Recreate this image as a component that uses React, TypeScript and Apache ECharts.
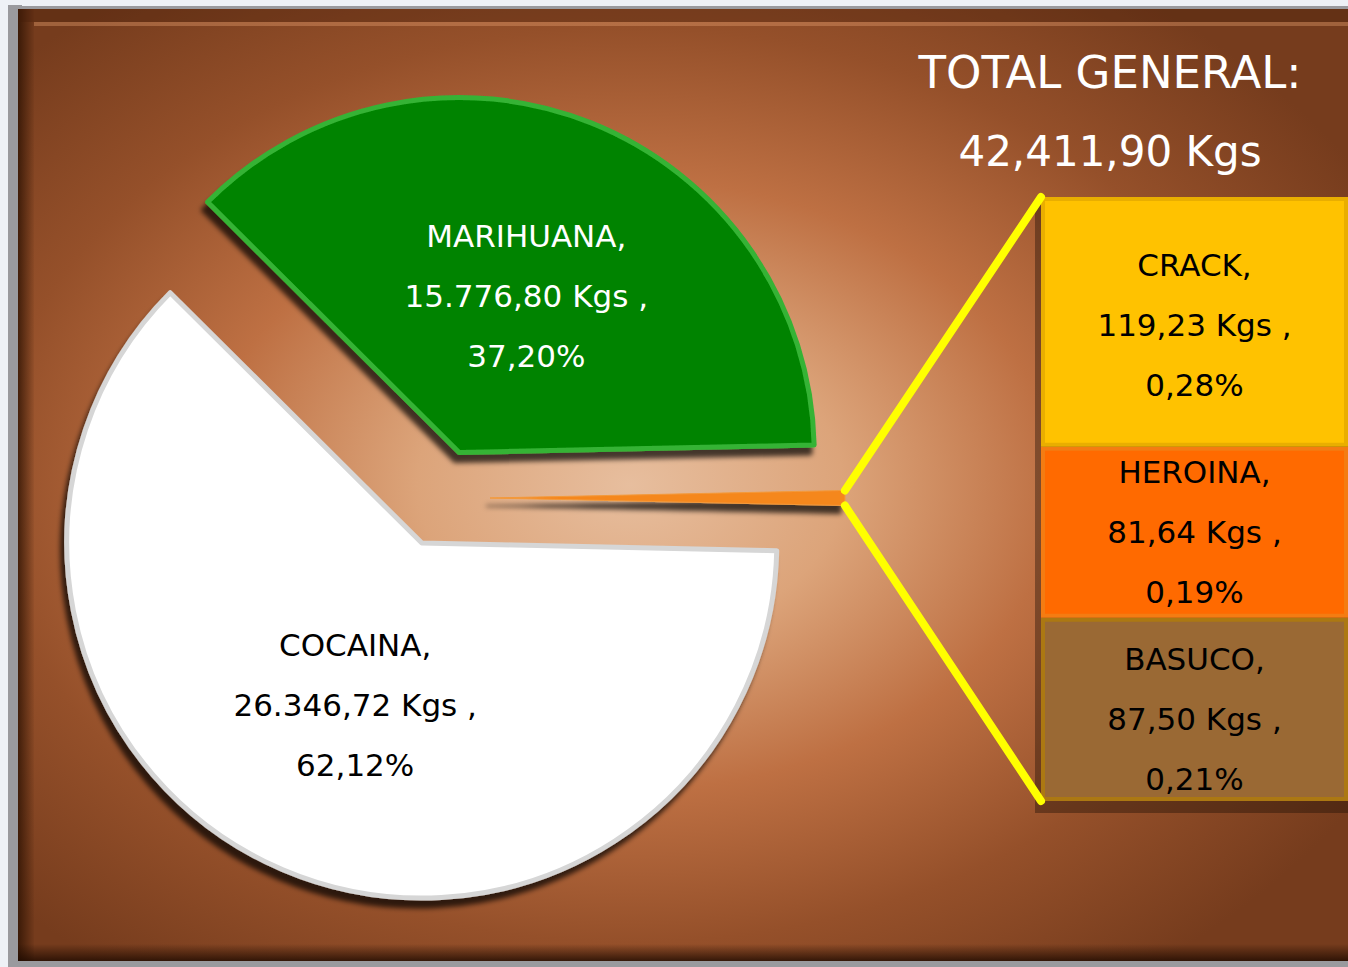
import React, { useEffect, useRef } from 'react';
import * as echarts from 'echarts';

// ---------- data ----------
const pieNames = ['OTROS', 'COCAINA', 'MARIHUANA'];
const mainValues = [26346.72, 15776.8]; // COCAINA, MARIHUANA
const barNames = ['CRACK', 'HEROINA', 'BASUCO'];
const barValues = [119.23, 81.64, 87.5];
const titleLine1 = 'TOTAL GENERAL:';
const titleLine2 = '42,411,90 Kgs';

// ---------- styles / layout ----------
const W = 1348;
const H = 967;
const PIE_CX = 441;
const PIE_CY = 498;
const PIE_R = 355;
const EXPLODE = 49;
const BAR_LEFT = 1041;
const BAR_TOP = 197;
const BAR_W = 307;
const BAR_H = 604;
const FONT = '"DejaVu Sans", "Noto Sans", sans-serif';

const pieColors: Record<string, { fill: string; border: string; text: string; dx: number; dy: number }> = {
  OTROS: { fill: '#F5871F', border: '#F39A3C', text: '#000', dx: 0, dy: 0 },
  COCAINA: { fill: '#FFFFFF', border: '#D6D6D6', text: '#000', dx: 4, dy: -4 },
  MARIHUANA: { fill: '#018301', border: '#35B335', text: '#fff', dx: 0, dy: 11 },
};
const barColors: Record<string, { fill: string; border: string; dy: number }> = {
  CRACK: { fill: '#FFC200', border: '#E9AE00', dy: 3 },
  HEROINA: { fill: '#FF6A00', border: '#F47C12', dy: 0 },
  BASUCO: { fill: '#9A6934', border: '#AC7812', dy: 10 },
};

const otherValue = barValues.reduce((a, b) => a + b, 0);
const pieValues = [otherValue, ...mainValues];
const grandTotal = pieValues.reduce((a, b) => a + b, 0);

function fmtNum(v: number) {
  const [i, d] = v.toFixed(2).split('.');
  return i.replace(/\B(?=(\d{3})+(?!\d))/g, '.') + ',' + d;
}
function fmtPct(v: number) {
  return ((v / grandTotal) * 100).toFixed(2).replace('.', ',') + '%';
}
function labelText(name: string, v: number) {
  return `${name},\n${fmtNum(v)} Kgs ,\n${fmtPct(v)}`;
}

export default function App() {
  const ref = useRef<HTMLDivElement>(null);
  useEffect(() => {
    if (!ref.current) return;
    const chart = echarts.init(ref.current, undefined, { renderer: 'svg' });

    const otherAngle = (otherValue / grandTotal) * 360;
    const half = ((otherAngle / 2) * Math.PI) / 180;
    const tipX = PIE_CX + EXPLODE + PIE_R * Math.cos(half);
    const tipTopY = PIE_CY - PIE_R * Math.sin(half);
    const tipBotY = PIE_CY + PIE_R * Math.sin(half);

    const barSeries = barNames
      .map((name, i) => ({ name, value: barValues[i] }))
      .reverse()
      .map((d) => ({
        type: 'bar',
        name: d.name,
        stack: 'otros',
        barWidth: '100%',
        data: [d.value],
        z: 3,
        itemStyle: {
          color: barColors[d.name].fill,
          borderColor: barColors[d.name].border,
          borderWidth: 4,
        },
        labelLayout: { dy: barColors[d.name].dy },
        label: {
          show: true,
          position: 'inside',
          formatter: labelText(d.name, d.value),
          color: '#000',
          fontFamily: FONT,
          fontSize: 31,
          lineHeight: 60,
        },
      }));

    chart.setOption({
      animation: false,
      graphic: [
        { type: 'rect', z: -10, shape: { x: 0, y: 0, width: W, height: H }, style: { fill: '#EEF1F6' } },
        { type: 'rect', z: -9, shape: { x: 8, y: 5, width: 14, height: H - 5 }, style: { fill: '#9A9A9E' } },
        { type: 'rect', z: -9, shape: { x: 8, y: 6, width: W, height: 5 }, style: { fill: '#9A9A9E' } },
        { type: 'rect', z: -9, shape: { x: 8, y: 960, width: W, height: 7 }, style: { fill: '#9A9A9E' } },
        {
          type: 'rect',
          z: -8,
          shape: { x: 18, y: 9, width: W - 18, height: 952 },
          style: {
            fill: {
              type: 'radial',
              x: 0.46,
              y: 0.5,
              r: 0.64,
              colorStops: [
                { offset: 0, color: '#E7BE9E' },
                { offset: 0.25, color: '#DCA47A' },
                { offset: 0.5, color: '#BE7043' },
                { offset: 0.75, color: '#95502A' },
                { offset: 1, color: '#763C1D' },
              ],
            },
          },
        },
        {
          type: 'rect',
          z: -7,
          shape: { x: 18, y: 9, width: 16, height: 952 },
          style: {
            fill: {
              type: 'linear', x: 0, y: 0, x2: 1, y2: 0,
              colorStops: [
                { offset: 0, color: 'rgba(40,15,0,0.75)' },
                { offset: 1, color: 'rgba(40,15,0,0.05)' },
              ],
            },
          },
        },
        {
          type: 'rect',
          z: -7,
          shape: { x: 18, y: 9, width: W - 18, height: 13 },
          style: { fill: 'rgba(70,30,8,0.35)' },
        },
        {
          type: 'rect',
          z: -7,
          shape: { x: 34, y: 22, width: W - 34, height: 4 },
          style: { fill: 'rgba(240,170,120,0.35)' },
        },
        {
          type: 'rect',
          z: -7,
          shape: { x: 18, y: 944, width: W - 18, height: 17 },
          style: {
            fill: {
              type: 'linear', x: 0, y: 0, x2: 0, y2: 1,
              colorStops: [
                { offset: 0, color: 'rgba(30,10,0,0)' },
                { offset: 1, color: 'rgba(30,10,0,0.8)' },
              ],
            },
          },
        },
        // shadow behind bar
        {
          type: 'rect',
          z: -1,
          shape: { x: BAR_LEFT - 6, y: BAR_TOP + 6, width: BAR_W + 6, height: BAR_H + 6 },
          style: { fill: 'rgba(30,15,5,0.4)' },
        },
        // connector lines
        {
          type: 'line',
          z: 5,
          shape: { x1: tipX, y1: tipTopY, x2: BAR_LEFT, y2: BAR_TOP },
          style: { stroke: '#FFFF00', lineWidth: 8, lineCap: 'round' },
        },
        {
          type: 'line',
          z: 5,
          shape: { x1: tipX, y1: tipBotY, x2: BAR_LEFT, y2: BAR_TOP + BAR_H },
          style: { stroke: '#FFFF00', lineWidth: 8, lineCap: 'round' },
        },
        {
          type: 'text',
          z: 5,
          x: 1110,
          y: 72,
          style: {
            text: titleLine1,
            fill: '#FFFFFF',
            font: `45px ${FONT}`,
            align: 'center',
            verticalAlign: 'middle',
          },
        },
        {
          type: 'text',
          z: 5,
          x: 1110,
          y: 151,
          style: {
            text: titleLine2,
            fill: '#FFFFFF',
            font: `42px ${FONT}`,
            align: 'center',
            verticalAlign: 'middle',
          },
        },
      ],
      grid: { left: BAR_LEFT, top: BAR_TOP, width: BAR_W, height: BAR_H, containLabel: false },
      xAxis: { type: 'category', data: ['OTROS'], show: false },
      yAxis: { type: 'value', min: 0, max: otherValue, show: false },
      series: [
        {
          type: 'pie',
          center: [PIE_CX, PIE_CY],
          radius: [0, PIE_R],
          startAngle: otherAngle / 2,
          clockwise: true,
          selectedMode: 'multiple',
          selectedOffset: EXPLODE,
          avoidLabelOverlap: false,
          labelLine: { show: false },
          emphasis: { disabled: true },
          z: 2,
          labelLayout: (params: any) => ({
            dx: pieColors[pieNames[params.dataIndex]].dx,
            dy: pieColors[pieNames[params.dataIndex]].dy,
          }),
          data: pieNames.map((name, i) => ({
            name,
            value: pieValues[i],
            selected: true,
            itemStyle: {
              color: pieColors[name].fill,
              borderColor: pieColors[name].border,
              borderWidth: name === 'OTROS' ? 1 : 5,
              shadowBlur: 5,
              shadowColor: 'rgba(0,0,0,0.7)',
              shadowOffsetX: -4,
              shadowOffsetY: 8,
            },
            select: {
              itemStyle: {
                color: pieColors[name].fill,
                borderColor: pieColors[name].border,
                borderWidth: name === 'OTROS' ? 1 : 5,
              },
            },
            label: {
              show: name !== 'OTROS',
              position: 'inside',
              formatter: labelText(name, pieValues[i]),
              color: pieColors[name].text,
              fontFamily: FONT,
              fontSize: 31,
              lineHeight: 60,
            },
          })),
        },
        ...barSeries,
      ],
    });
    return () => chart.dispose();
  }, []);
  return (
    <div
      ref={ref}
      style={{ position: 'absolute', left: 0, top: 0, width: W, height: H }}
    />
  );
}
